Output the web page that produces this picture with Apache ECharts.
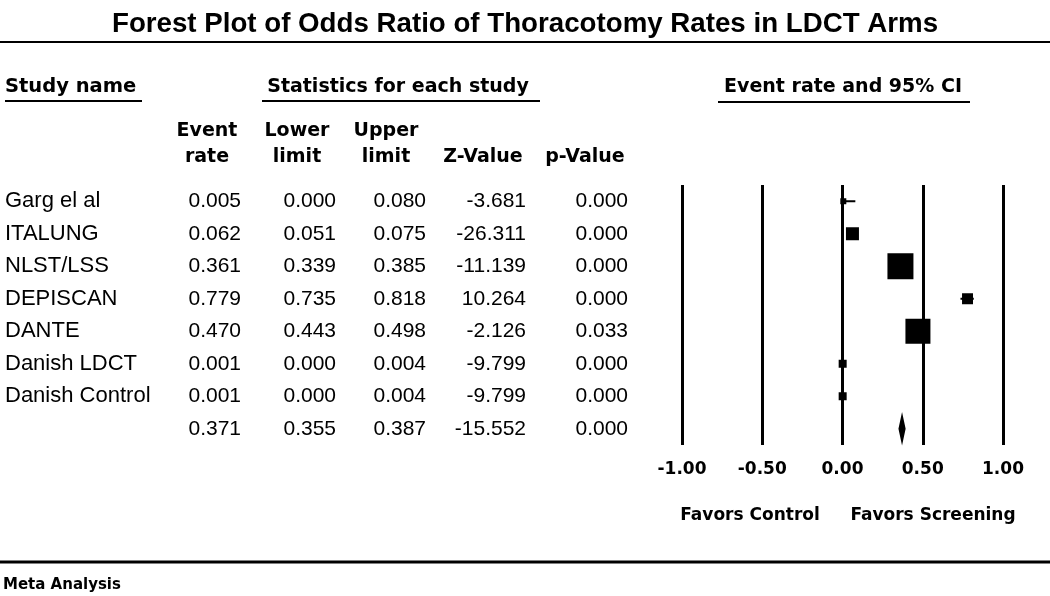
<!DOCTYPE html>
<html><head><meta charset="utf-8">
<script src="https://cdn.jsdelivr.net/npm/echarts@6/dist/echarts.min.js"></script>
<style>html,body{margin:0;padding:0;background:#fff}#c{width:1050px;height:596px}</style>
</head><body><div id="c"></div>
<script>
// ---------- data ----------
const studies = ['Garg el al','ITALUNG','NLST/LSS','DEPISCAN','DANTE','Danish LDCT','Danish Control',''];
const eventRate  = [0.005, 0.062, 0.361, 0.779, 0.470, 0.001, 0.001, 0.371];
const lowerLimit = [0.000, 0.051, 0.339, 0.735, 0.443, 0.000, 0.000, 0.355];
const upperLimit = [0.080, 0.075, 0.385, 0.818, 0.498, 0.004, 0.004, 0.387];
const zValue     = [-3.681, -26.311, -11.139, 10.264, -2.126, -9.799, -9.799, -15.552];
const pValue     = [0.000, 0.000, 0.000, 0.000, 0.033, 0.000, 0.000, 0.000];
const relWeight  = [6, 13, 26, 11, 25, 8, 8, 0];   // relative study weight (box size)
const colHeader1 = ['Event', 'Lower', 'Upper', '', ''];
const colHeader2 = ['rate', 'limit', 'limit', 'Z-Value', 'p-Value'];
const xTicks = [-1.00, -0.50, 0.00, 0.50, 1.00];

// ---------- layout ----------
const HDR = '"DejaVu Sans"';
const NAMEFONT = '22px "Liberation Sans"';
const NUMFONT = '21px "Liberation Sans"';
const nameX = 5;
const colRight = [241, 336, 426, 526, 628];
const colHeadCenter = [207, 297, 386, 483, 585];
const summaryIndex = studies.length - 1;

const chart = echarts.init(document.getElementById('c'));

function forest(params, api) {
  const i = params.dataIndex;
  const row = api.value(1);
  const c = api.coord([api.value(0), row]);
  const xl = api.coord([api.value(2), row])[0];
  const xu = api.coord([api.value(3), row])[0];
  if (i === summaryIndex) {
    const h = 24;
    return {type: 'polygon', shape: {points: [[xl, c[1]], [c[0], c[1] - h / 2], [xu, c[1]], [c[0], c[1] + h / 2]]},
      style: {fill: '#000', stroke: '#000', lineWidth: 2}};
  }
  const w = api.value(4);
  return {type: 'group', children: [
    {type: 'line', shape: {x1: xl, y1: c[1], x2: xu, y2: c[1]}, style: {stroke: '#000', lineWidth: 2}},
    {type: 'rect', shape: {x: c[0] - w / 2, y: c[1] - w / 2, width: w, height: w}, style: {fill: '#000'}}
  ]};
}

function txt(text, x, y, font, align) {
  return {type: 'text', x: x, y: y, style: {text: text, font: font, fill: '#000',
    align: align, verticalAlign: 'middle', textAlign: align, textVerticalAlign: 'middle'}};
}

function table(params, api) {
  const i = params.dataIndex;
  const y = api.coord([0, i])[1];
  const vals = [eventRate[i], lowerLimit[i], upperLimit[i], zValue[i], pValue[i]].map(v => v.toFixed(3));
  const children = [txt(studies[i], nameX, y, NAMEFONT, 'left')];
  vals.forEach((t, k) => children.push(txt(t, colRight[k], y, NUMFONT, 'right')));
  return {type: 'group', children: children};
}

const graphics = [];
function gText(text, x, y, size, align) {
  graphics.push({type: 'text', x: x, y: y, silent: true, style: {text: text, font: 'bold ' + size + 'px ' + HDR, fill: '#000',
    align: align, verticalAlign: 'middle', textAlign: align, textVerticalAlign: 'middle'}});
}
function gLine(x1, y1, x2, y2, w) {
  graphics.push({type: 'line', silent: true, shape: {x1: x1, y1: y1, x2: x2, y2: y2}, style: {stroke: '#000', lineWidth: w}});
}
gText('Study name', 5, 87, 19.5, 'left');
gLine(5, 101, 142, 101, 2);
gText('Statistics for each study', 398, 87, 19, 'center');
gLine(262, 101, 540, 101, 2);
gText('Event rate and 95% CI', 843, 87, 19, 'center');
gLine(718, 102, 970, 102, 2);
colHeader1.forEach((t, k) => gText(t, colHeadCenter[k], 131, 19, 'center'));
colHeader2.forEach((t, k) => gText(t, colHeadCenter[k], 157, 19, 'center'));
gText('Favors Control', 750, 516, 17, 'center');
gText('Favors Screening', 933, 516, 17, 'center');
gLine(0, 42, 1050, 42, 2);
gLine(0, 562, 1050, 562, 3);
gText('Meta Analysis', 3, 585, 15, 'left');

chart.setOption({
  animation: false,
  backgroundColor: '#fff',
  title: {text: 'Forest Plot of Odds Ratio of Thoracotomy Rates in LDCT Arms', left: 'center', top: 5,
    textStyle: {fontFamily: 'Liberation Sans', fontWeight: 'bold', fontSize: 27.7, color: '#000'}},
  grid: {left: 682, right: 47, top: 185, bottom: 151},
  xAxis: {type: 'value', min: xTicks[0], max: xTicks[xTicks.length - 1], interval: 0.5,
    axisLine: {show: false}, axisTick: {show: false},
    splitLine: {show: true, lineStyle: {color: '#000', width: 3}},
    axisLabel: {margin: 16, color: '#000', fontFamily: 'DejaVu Sans', fontWeight: 'bold', fontSize: 17,
      formatter: v => v.toFixed(2)}},
  yAxis: {type: 'category', inverse: true, data: studies, show: false},
  graphic: graphics,
  series: [
    {type: 'custom', renderItem: forest, silent: true, z: 5,
      data: eventRate.map((v, i) => [v, i, lowerLimit[i], upperLimit[i], relWeight[i]])},
    {type: 'custom', renderItem: table, silent: true, clip: false,
      data: studies.map((s, i) => [0, i])}
  ]
});
</script>
</body></html>
